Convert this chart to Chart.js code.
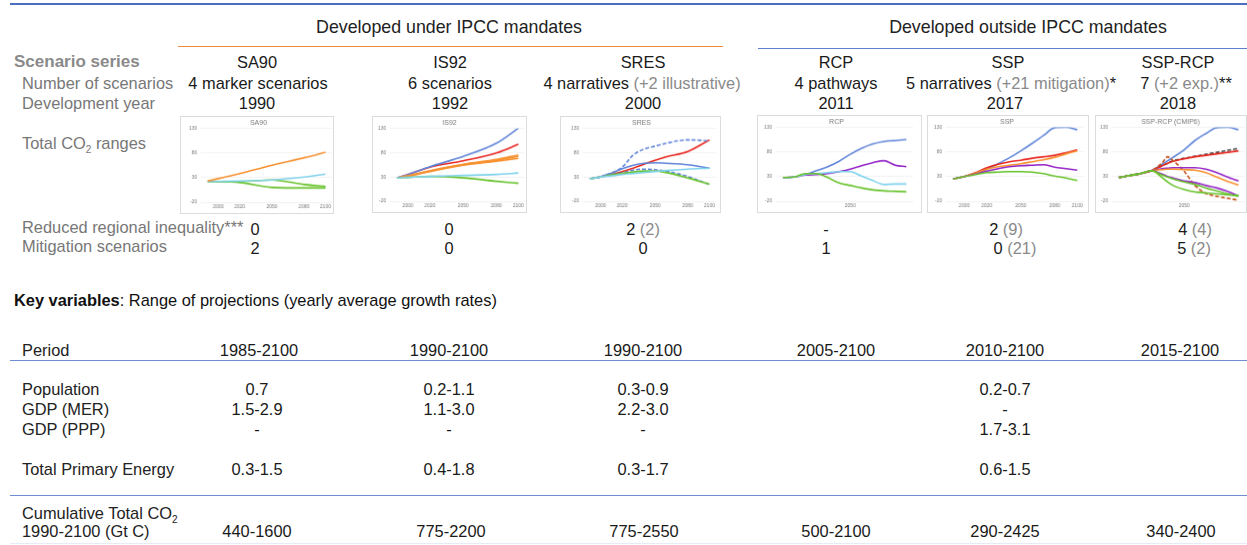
<!DOCTYPE html>
<html>
<head>
<meta charset="utf-8">
<script src="https://cdn.jsdelivr.net/npm/chart.js@4"></script>
<style>
  body { margin: 0; width: 1247px; height: 545px; background: #fff; position: relative; overflow: hidden;
         font-family: "Liberation Sans", Arial, sans-serif; }
  .t { position: absolute; white-space: nowrap; font-size: 16.4px; line-height: 16px; color: #1a1a1a;
       transform: translate(-50%, -50%); }
  .l { transform: translate(0, -50%); color: #777; }
  .g { color: #8a8a8a; }
  .rule { position: absolute; height: 0; }
  canvas.panel { position: absolute; border: 1px solid #dcdcdc; }
  sub { font-size: 10px; line-height: 0; }
</style>
</head>
<body>

<canvas class="panel" id="sa90" width="154" height="98" style="left:180px;top:116px"></canvas>
<canvas class="panel" id="is92" width="155" height="97" style="left:372px;top:116px"></canvas>
<canvas class="panel" id="sres" width="161" height="97" style="left:560px;top:116px"></canvas>
<canvas class="panel" id="rcp" width="165" height="98" style="left:757px;top:115px"></canvas>
<canvas class="panel" id="ssp" width="162" height="98" style="left:927px;top:115px"></canvas>
<canvas class="panel" id="ssprcp" width="152" height="98" style="left:1095px;top:115px"></canvas>

<script>
// table text
const scenarioSeries = ['SA90', 'IS92', 'SRES', 'RCP', 'SSP', 'SSP-RCP'];
const scenarioCounts = ['4 marker scenarios', '6 scenarios', '4 narratives <span class="g">(+2 illustrative)</span>',
  '4 pathways', '5 narratives <span class="g">(+21 mitigation)</span>*', '7 <span class="g">(+2 exp.)</span>**'];
const developmentYear = ['1990', '1992', '2000', '2011', '2017', '2018'];
const reducedInequality = ['0', '0', '2 <span class="g">(2)</span>', '-', '2 <span class="g">(9)</span>', '4 <span class="g">(4)</span>'];
const mitigationScenarios = ['2', '0', '0', '1', '0 <span class="g">(21)</span>', '5 <span class="g">(2)</span>'];
const periods = ['1985-2100', '1990-2100', '1990-2100', '2005-2100', '2010-2100', '2015-2100'];
const population = ['0.7', '0.2-1.1', '0.3-0.9', '', '0.2-0.7', ''];
const gdpMer = ['1.5-2.9', '1.1-3.0', '2.2-3.0', '', '-', ''];
const gdpPpp = ['-', '-', '-', '', '1.7-3.1', ''];
const primaryEnergy = ['0.3-1.5', '0.4-1.8', '0.3-1.7', '', '0.6-1.5', ''];
const cumulativeCO2 = ['440-1600', '775-2200', '775-2550', '500-2100', '290-2425', '340-2400'];

// mini chart values (Gt C per year)
const yTicks = [-20, 30, 80, 130];

const sa90Years = [1990, 2020, 2050, 2080, 2100];
const sa90Orange = [23, 38, 55, 70, 81];
const sa90Cyan = [22, 23, 25, 31, 37];
const sa90GreenA = [22, 22, 25, 16, 12];
const sa90GreenB = [22, 20, 10, 9, 9];

const is92Years = [1990, 2000, 2020, 2050, 2080, 2100];
const is92Blue = [28, 35, 51, 72, 99, 130];
const is92Red = [28, 35, 50, 63, 79, 97];
const is92OrangeA = [28, 32, 43, 56, 66, 75];
const is92OrangeB = [28, 32, 42, 55, 64, 72];
const is92OrangeC = [28, 31, 41, 54, 62, 68];
const is92Cyan = [28, 29, 31, 33, 35, 38];
const is92Green = [28, 29, 31, 28, 21, 17];

const sresYears = [1990, 2000, 2010, 2020, 2030, 2040, 2050, 2060, 2080, 2100];
const sresRed = [26, 30, 35, 41, 48, 56, 64, 71, 82, 106];
const sresBlueDashHigh = [26, 30, 38, 50, 75, 87, 93, 99, 106, 104];
const sresBlue = [26, 30, 38, 47, 54, 58, 59, 58, 55, 48];
const sresBlueDashLow = [26, 30, 34, 38, 44, 46, 45, 42, 31, 14];
const sresGreen = [26, 30, 34, 37, 40, 42, 42, 39, 28, 15];
const sresCyan = [26, 30, 32, 35, 37, 39, 41, 43, 46, 48];

const rcpYears = [1990, 2000, 2010, 2020, 2030, 2040, 2050, 2060, 2070, 2080, 2090, 2100];
const rcpBlue = [28, 29, 34, 42, 50, 61, 75, 87, 96, 101, 103, 105];
const rcpPurple = [28, 29, 33, 34, 36, 40, 45, 52, 58, 62, 53, 50];
const rcpCyan = [28, 29, 34, 36, 38, 40, 40, 31, 22, 14, 15, 15];
const rcpGreen = [28, 29, 36, 36, 28, 17, 12, 7, 3, 1, 0, -1];

const sspYears = [1990, 2000, 2010, 2020, 2030, 2040, 2050, 2060, 2070, 2080, 2090, 2100];
const sspBlue = [25, 30, 36, 45, 56, 68, 82, 97, 113, 129, 130, 125];
const sspRed = [25, 30, 38, 48, 55, 60, 63, 67, 70, 73, 78, 84];
const sspOrange = [25, 30, 37, 45, 50, 53, 56, 60, 64, 69, 76, 82];
const sspPurple = [25, 30, 35, 41, 46, 50, 52, 53, 54, 49, 46, 43];
const sspGreen = [25, 30, 34, 38, 39, 40, 40, 39, 36, 31, 27, 22];

const cmipYears = [1990, 2000, 2010, 2020, 2030, 2035, 2040, 2050, 2060, 2070, 2080, 2090, 2100];
const cmipBlue = [28, 32, 36, 42, 55, 62, 69, 84, 103, 117, 129, 130, 125];
const cmipRed = [28, 32, 36, 42, 52, 57, 61, 66, 70, 73, 76, 79, 82];
const cmipBlackDash = [28, 32, 36, 42, 52, 57, 62, 67, 71, 75, 79, 83, 87];
const cmipBrownDash = [28, 32, 36, 42, 58, 70, 62, 41, 12, -4, -10, -14, -18];
const cmipPurpleA = [28, 32, 36, 42, 46, 47, 48, 48, 48, 45, 38, 29, 21];
const cmipOrange = [28, 32, 36, 42, 44, 45, 45, 44, 43, 38, 29, 20, 13];
const cmipPurpleB = [28, 32, 36, 42, 35, 30, 27, 21, 18, 12, 7, 0, -9];
const cmipGreenA = [28, 32, 36, 42, 33, 29, 25, 19, 14, 7, 1, -5, -10];
const cmipGreenB = [28, 32, 36, 42, 28, 19, 12, 4, -1, -3, -5, -7, -8];

const BLUE = '#5f84d8', RED = '#e8231c', ORANGE = '#f7902e', CYAN = '#7fd2ec',
      GREEN = '#66c22a', PURPLE = '#9425c6', BLACK = '#444444', BROWN = '#c4521c';

// column centres of the table
const cols = [257, 450, 643, 836, 1006, 1180];

function addText(x, y, html, cls, extra) {
  const el = document.createElement('div');
  el.className = 't' + (cls ? ' ' + cls : '');
  el.style.left = x + 'px';
  el.style.top = y + 'px';
  if (extra) Object.assign(el.style, extra);
  el.innerHTML = html;
  document.body.appendChild(el);
}

function addRule(x1, x2, y, w, color) {
  const el = document.createElement('div');
  el.className = 'rule';
  el.style.left = x1 + 'px';
  el.style.width = (x2 - x1) + 'px';
  el.style.top = y + 'px';
  el.style.borderTop = w + 'px solid ' + color;
  document.body.appendChild(el);
}

function addRow(values, y, shift) {
  values.forEach((v, i) => {
    if (v !== '') addText(cols[i] + (shift ? shift[i] : 0), y, v);
  });
}

function buildTable() {
  addRule(10, 1247, 3, 2, '#4a6fc0');
  addText(449, 27, 'Developed under IPCC mandates', '', {fontSize: '17.8px', color: '#222'});
  addText(1028, 27, 'Developed outside IPCC mandates', '', {fontSize: '17.8px', color: '#222'});
  addRule(178, 723, 46, 1.5, '#ef8a3c');
  addRule(758, 1247, 48, 1.5, '#5b7fcc');

  addText(14, 62, 'Scenario series', 'l', {fontWeight: 'bold', fontSize: '17px', color: '#8a8a8a'});
  addRow(scenarioSeries, 62, [0, 0, 0, 0, 2, -2]);
  addText(22, 83, 'Number of scenarios', 'l');
  addRow(scenarioCounts, 83, [1, 0, -1, 0, 5, 6]);
  addText(22, 103, 'Development year', 'l');
  addRow(developmentYear, 103, [0, 0, 0, 0, -1, -2]);
  addText(22, 143, 'Total CO<sub>2</sub> ranges', 'l');

  addText(22, 227, 'Reduced regional inequality***', 'l');
  addRow(reducedInequality, 229, [-2, -1, 0, -10, 0, 15]);
  addText(22, 246, 'Mitigation scenarios', 'l');
  addRow(mitigationScenarios, 248, [-2, -1, 0, -10, 9, 14]);

  addText(14, 300, '<b>Key variables</b>: Range of projections (yearly average growth rates)', 'l', {color: '#111'});

  addText(22, 350, 'Period', 'l', {color: '#222'});
  addRow(periods, 350, [2, -1, 0, 0, -1, 0]);
  addRule(10, 1247, 360, 1, '#6f8ed2');

  const rowShift = [0, -1, 0, 0, -1, 0];
  addText(22, 389, 'Population', 'l', {color: '#222'});
  addRow(population, 389, rowShift);
  addText(22, 409, 'GDP (MER)', 'l', {color: '#222'});
  addRow(gdpMer, 409, rowShift);
  addText(22, 429, 'GDP (PPP)', 'l', {color: '#222'});
  addRow(gdpPpp, 429, rowShift);
  addText(22, 469, 'Total Primary Energy', 'l', {color: '#222'});
  addRow(primaryEnergy, 469, rowShift);
  addRule(10, 1247, 495, 1, '#6f8ed2');

  addText(22, 513, 'Cumulative Total CO<sub>2</sub>', 'l', {color: '#222'});
  addText(22, 531, '1990-2100 (Gt C)', 'l', {color: '#222'});
  addRow(cumulativeCO2, 531, [0, 1, 1, 0, -1, 1]);
  addRule(10, 1247, 543, 1, '#e6ebf6');
}

function makePanel(id, title, years, series, xLabels, pad) {
  new Chart(document.getElementById(id), {
    type: 'line',
    data: {
      datasets: series.map(s => ({
        data: s.values.map((v, i) => ({x: years[i], y: v})),
        borderColor: s.color,
        borderWidth: 1.6,
        borderDash: s.dash || [],
        pointRadius: 0,
        cubicInterpolationMode: 'monotone',
        fill: false
      }))
    },
    options: {
      responsive: false,
      animation: false,
      devicePixelRatio: 1,
      layout: {padding: pad},
      plugins: {
        legend: {display: false},
        tooltip: {enabled: false},
        title: {display: true, text: title, color: '#777',
                font: {size: 7, family: 'Liberation Sans', weight: 'normal'}, padding: {top: 2, bottom: 1}}
      },
      scales: {
        x: {type: 'linear', min: 1984, max: 2106,
            afterBuildTicks: ax => { ax.ticks = xLabels.map(v => ({value: v})); },
            ticks: {font: {size: 5}, color: '#777', padding: 2, maxRotation: 0, autoSkip: false,
                    callback: v => String(v)},
            grid: {display: false, drawTicks: false}, border: {display: false}},
        y: {min: -20, max: 130,
            afterBuildTicks: ax => { ax.ticks = yTicks.map(v => ({value: v})); },
            ticks: {font: {size: 5}, color: '#777', padding: 4, callback: v => String(v)},
            grid: {color: '#efefef', lineWidth: 0.8, drawTicks: false}, border: {display: false}}
      }
    }
  });
}

function buildCharts() {
  const fullTicks = [2000, 2020, 2050, 2080, 2100];
  makePanel('sa90', 'SA90', sa90Years, [
    {values: sa90Orange, color: ORANGE},
    {values: sa90Cyan, color: CYAN},
    {values: sa90GreenA, color: GREEN},
    {values: sa90GreenB, color: GREEN}
  ], fullTicks, {left: 4, right: 1, top: 0, bottom: 1});

  makePanel('is92', 'IS92', is92Years, [
    {values: is92Cyan, color: CYAN},
    {values: is92Green, color: GREEN},
    {values: is92OrangeC, color: ORANGE},
    {values: is92OrangeB, color: ORANGE},
    {values: is92OrangeA, color: ORANGE},
    {values: is92Blue, color: BLUE},
    {values: is92Red, color: RED}
  ], fullTicks, {left: 1, right: 1, top: 0, bottom: 1});

  makePanel('sres', 'SRES', sresYears, [
    {values: sresCyan, color: CYAN},
    {values: sresGreen, color: GREEN},
    {values: sresBlueDashLow, color: BLUE, dash: [4, 2]},
    {values: sresBlue, color: BLUE},
    {values: sresBlueDashHigh, color: BLUE, dash: [4, 2]},
    {values: sresRed, color: RED}
  ], fullTicks, {left: 6, right: 4, top: 0, bottom: 1});

  makePanel('rcp', 'RCP', rcpYears, [
    {values: rcpGreen, color: GREEN},
    {values: rcpCyan, color: CYAN},
    {values: rcpPurple, color: PURPLE},
    {values: rcpBlue, color: BLUE}
  ], [2050], {left: 2, right: 8, top: 0, bottom: 1});

  makePanel('ssp', 'SSP', sspYears, [
    {values: sspGreen, color: GREEN},
    {values: sspPurple, color: PURPLE},
    {values: sspOrange, color: ORANGE},
    {values: sspRed, color: RED},
    {values: sspBlue, color: BLUE}
  ], fullTicks, {left: 2, right: 4, top: 0, bottom: 1});

  makePanel('ssprcp', 'SSP-RCP (CMIP6)', cmipYears, [
    {values: cmipGreenB, color: GREEN},
    {values: cmipGreenA, color: GREEN},
    {values: cmipPurpleB, color: PURPLE},
    {values: cmipOrange, color: ORANGE},
    {values: cmipPurpleA, color: PURPLE},
    {values: cmipBrownDash, color: BROWN, dash: [4, 2]},
    {values: cmipRed, color: RED},
    {values: cmipBlackDash, color: BLACK, dash: [4, 2]},
    {values: cmipBlue, color: BLUE}
  ], [2050], {left: 0, right: 1, top: 0, bottom: 1});
}

buildTable();
buildCharts();
</script>
</body>
</html>
